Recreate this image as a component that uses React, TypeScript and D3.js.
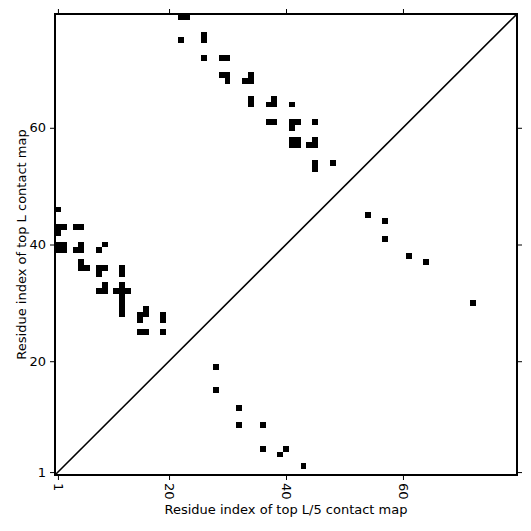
import React, {useEffect, useRef} from 'react';
import * as d3 from 'd3';

// sequence length
const L = 79;
const tickValues = [1, 20, 40, 60];

// top L contacts as [i, j], shown above the diagonal
const topL = [
    [22, 79], [23, 79], [22, 75], [26, 76], [26, 75], [26, 72], [29, 72], [30, 72],
    [29, 69], [30, 69], [30, 68], [34, 69], [33, 68], [34, 68], [34, 65], [34, 64],
    [38, 65], [37, 64], [38, 64], [41, 64], [37, 61], [38, 61], [41, 61], [42, 61],
    [41, 60], [45, 61], [41, 58], [42, 58], [41, 57], [42, 57], [45, 58], [44, 57],
    [45, 57], [45, 54], [45, 53], [48, 54],
    [1, 46], [1, 43], [2, 43], [1, 42], [4, 43], [5, 43],
    [1, 40], [2, 40], [1, 39], [2, 39], [5, 40], [4, 39], [5, 39], [9, 40], [8, 39],
    [5, 37], [5, 36], [6, 36], [8, 36], [9, 36], [8, 35], [12, 36], [12, 35],
    [9, 33], [8, 32], [9, 32],
    [12, 33], [12, 32], [12, 31], [12, 30], [12, 29], [12, 28], [11, 32], [13, 32],
    [16, 29], [15, 28], [16, 28], [15, 27], [15, 25], [16, 25],
    [19, 28], [19, 27], [19, 25]
];

// top L/5 contacts as [i, j], shown below the diagonal
const topL5 = [
    [54, 45], [57, 44], [57, 41], [61, 38], [64, 37], [72, 30],
    [28, 19], [28, 15], [32, 12], [32, 9], [36, 9], [36, 5], [40, 5], [39, 4], [43, 2]
];

const xLabel = 'Residue index of top L/5 contact map';
const yLabel = 'Residue index of top L contact map';

const width = 531;
const height = 531;
const margin = {left: 55, right: 14, top: 14, bottom: 56};
const font = '"DejaVu Sans", sans-serif';

export default function App() {
    const xAxisRef = useRef<SVGGElement>(null);
    const yAxisRef = useRef<SVGGElement>(null);
    const topAxisRef = useRef<SVGGElement>(null);
    const rightAxisRef = useRef<SVGGElement>(null);

    const x = d3.scaleLinear().domain([0.5, L + 0.5]).range([margin.left, width - margin.right]);
    const y = d3.scaleLinear().domain([0.5, L + 0.5]).range([height - margin.bottom, margin.top]);

    useEffect(() => {
        const style = (g) => {
            g.select('.domain').remove();
            g.selectAll('line').attr('stroke', '#000').attr('stroke-width', 1);
            g.attr('font-family', font).attr('font-size', 13);
            g.selectAll('text').attr('fill', '#000');
        };

        d3.select(xAxisRef.current)
            .call(d3.axisBottom(x).tickValues(tickValues).tickSize(5).tickFormat(d3.format('d')))
            .call(style)
            .selectAll('text')
            .attr('transform', 'rotate(90)')
            .attr('x', 8)
            .attr('y', 0)
            .attr('dy', '0.35em')
            .style('text-anchor', 'start');

        d3.select(yAxisRef.current)
            .call(d3.axisLeft(y).tickValues(tickValues).tickSize(5).tickPadding(4).tickFormat(d3.format('d')))
            .call(style);

        d3.select(topAxisRef.current)
            .call(d3.axisTop(x).tickValues(tickValues).tickSize(5).tickFormat(() => ''))
            .call(style);

        d3.select(rightAxisRef.current)
            .call(d3.axisRight(y).tickValues(tickValues).tickSize(5).tickFormat(() => ''))
            .call(style);
    }, []);

    const cell = (d, k) => (
        <rect key={k}
            x={x(d[0] - 0.5)}
            y={y(d[1] + 0.5)}
            width={x(d[0] + 0.5) - x(d[0] - 0.5)}
            height={y(d[1] - 0.5) - y(d[1] + 0.5)}
            fill="#000" />
    );

    return (
        <svg width={width} height={height} style={{position: 'absolute', left: 0, top: 0, background: '#fff'}}>
            <g shapeRendering="crispEdges">
                {topL.map((d, i) => cell(d, 'l' + i))}
                {topL5.map((d, i) => cell(d, 's' + i))}
            </g>

            <line x1={x(0.5)} y1={y(0.5)} x2={x(L + 0.5)} y2={y(L + 0.5)} stroke="#000" strokeWidth={1.6} />

            {/* frame */}
            <rect x={margin.left} y={margin.top}
                width={width - margin.left - margin.right}
                height={height - margin.top - margin.bottom}
                fill="none" stroke="#000" strokeWidth={2} />

            {/* Axes */}
            <g ref={xAxisRef} transform={`translate(0, ${height - margin.bottom})`} />
            <g ref={yAxisRef} transform={`translate(${margin.left}, 0)`} />
            <g ref={topAxisRef} transform={`translate(0, ${margin.top})`} />
            <g ref={rightAxisRef} transform={`translate(${width - margin.right}, 0)`} />

            <text x={(x(0.5) + x(L + 0.5)) / 2} y={514} textAnchor="middle"
                fontFamily={font} fontSize={13}>{xLabel}</text>
            <text transform={`translate(26, ${(y(0.5) + y(L + 0.5)) / 2}) rotate(-90)`} textAnchor="middle"
                fontFamily={font} fontSize={13}>{yLabel}</text>
        </svg>
    );
}
